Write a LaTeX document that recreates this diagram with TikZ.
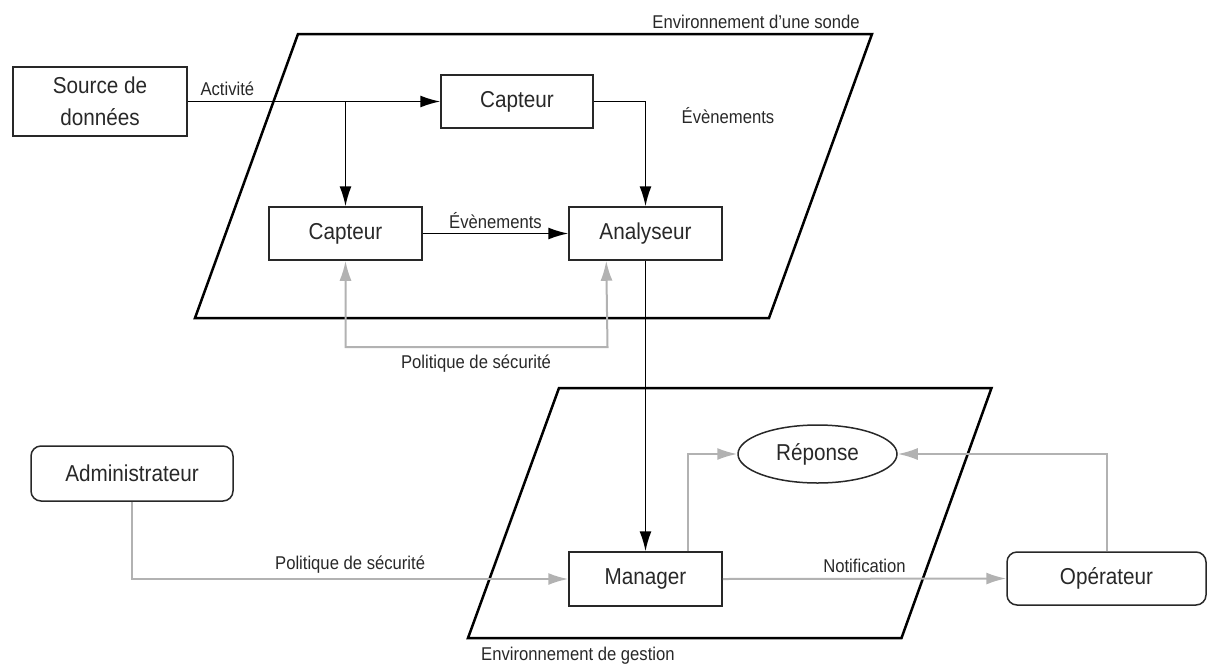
\documentclass[tikz,border=0pt]{standalone}
\usepackage{fontspec}
\setmainfont{Liberation Sans}[FakeStretch=0.9]
\usetikzlibrary{%
  arrows.meta,%
  shapes.geometric%
}
\definecolor{trait}{RGB}{40,40,40}
\definecolor{gris}{RGB}{178,178,178}
\tikzset{>={Latex[length=20pt,width=12pt]},%
  boite/.style={draw=trait,line width=1.5pt,minimum height=53pt,inner sep=0pt,
    font=\fontsize{23}{32}\selectfont,text=trait,align=center},
  acteur/.style={boite,rounded corners=10pt},
  etiq/.style={font=\fontsize{18.5}{22}\selectfont,text=trait,inner sep=0pt},
  cadre/.style={draw=black,line width=2.5pt},
  flux/.style={draw=black,line width=1.6pt,->},
  pol/.style={draw=gris,line width=2pt,->}}

\begin{document}
\begin{tikzpicture}[x=1pt,y=-1pt]
  \useasboundingbox (0,0) rectangle (1210,670);
  % les deux environnements
  \draw[cadre] (298,34) -- (872,34) -- (769,318) -- (195,318) -- cycle;
  \draw[cadre] (559,388) -- (991.5,388) -- (901.5,638) -- (468,638) -- cycle;
  \node[etiq,anchor=east] (envs) at (860,22) {Environnement d'une sonde};
  \node[etiq,anchor=west] (envg) at (481,656) {Environnement de gestion};

  \node[boite,minimum width=174pt,minimum height=69pt] (src) at (100,101.5) {Source de\\données};
  \node[boite,minimum width=152pt] (cap1) at (517,101.5) {Capteur};
  \node[boite,minimum width=153pt] (cap2) at (345.5,233.5) {Capteur};
  \node[boite,minimum width=153pt] (ana) at (645.5,233.5) {Analyseur};
  \node[boite,minimum width=153pt,minimum height=54pt] (mgr) at (645.5,579) {Manager};
  \node[boite,shape=ellipse,minimum width=159pt,minimum height=58pt] (rep) at (817.5,454) {Réponse};
  \node[acteur,minimum width=202pt,minimum height=55pt] (adm) at (132,473.5) {Administrateur};
  \node[acteur,minimum width=199pt] (ope) at (1106.5,578.5) {Opérateur};

  % flux de la sonde
  \draw[flux] (src.east) -- node[etiq,pos=0,anchor=south west,xshift=12pt,yshift=5pt] (act) {Activité} (cap1.west);
  \draw[flux] (src.east -| cap2.north) -- (cap2.north);
  \draw[flux] (cap1.east) -| (ana.north);
  \node[etiq] (ev1) at (728,116) {Évènements};
  \draw[flux] (cap2.east) -- node[etiq,above,yshift=4pt] (ev2) {Évènements} (ana.west);
  \draw[flux] (ana.south) -- (mgr.north);

  % politique de securite
  \coordinate (polx) at (607.5,347);
  \draw[pol,<->] (cap2.south) |- (polx) -- ([xshift=38pt]ana.south west);
  \node[etiq] (pol1) at (476,364) {Politique de sécurité};
  \draw[pol] (adm.south) |- node[etiq,pos=0.75,above,yshift=5pt] (pol2) {Politique de sécurité} (mgr.west);

  % gestion
  \draw[pol] (mgr.east) -- node[etiq,above,yshift=5pt] (notif) {Notification} (ope.west);
  \draw[pol] ([xshift=-35pt]mgr.north east) |- (rep.west);
  \draw[pol] (ope.north) |- (rep.east);
\end{tikzpicture}
\end{document}
